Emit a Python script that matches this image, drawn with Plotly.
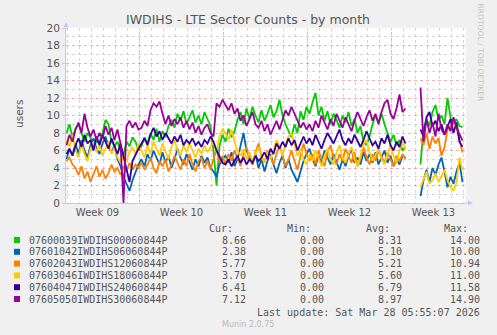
import pandas as pd
import plotly.graph_objects as go

title = "IWDIHS - LTE Sector Counts - by month"
start = "2026-02-23 22:00"   # first sample, one every 6 hours
step = "6h"
gap = 4                      # samples missing between the two runs

names = ["07600039IWDIHS00060844P", "07601042IWDIHS06060844P", "07602043IWDIHS12060844P",
         "07603046IWDIHS18060844P", "07604047IWDIHS24060844P", "07605050IWDIHS30060844P"]
colors = ["#00CC00", "#0066B3", "#FF8000", "#FFCC00", "#330099", "#990099"]

green_a = [8, 9, 7.5, 8.5, 9, 8, 7, 8, 7.5, 6.5, 7,
           7, 8, 9.5, 9, 7, 6.5, 7, 6, 5.5, 7, 6.5, 7.5, 7, 6,
           6.5, 7.5, 6.8, 8.0, 7.2, 8.5, 7.0, 8.2, 7.5, 8.8, 9.5, 8.6, 10.2, 9.4, 10.5, 9.0, 9.8, 10.6,
           9.2, 10.0, 9.0, 10.4, 9.6, 8.8, 6.0, 2.0, 6.5, 7.8,
           7.0, 8.5, 7.5, 8.2, 9.5, 10.4, 9.0, 10.8, 9.6, 11.0, 10.0, 9.2, 10.6, 9.4, 10.2, 11.2, 9.8,
           10.5, 11.8, 10.0, 9.0, 8.2, 7.5, 9.0, 8.0, 10.5, 9.5, 11.0,
           10.2, 11.5, 12.6, 10.0, 11.0, 9.4, 10.5, 9.0, 10.2, 9.5, 8.6, 10.0, 9.2, 10.4, 8.8, 9.6, 8.0,
           8.8, 7.0, 6.6, 7.6, 9.0, 10.0, 9.2, 10.2, 9.0, 8.0, 7.0, 7.8, 6.6, 7.2, 6.0, 6.4]
green_b = [4.4, 8.5, 9.6, 8.8, 10.4, 11.2, 9.5, 10.0, 9.0, 12.0, 9.8, 9.0, 9.6, 8.8, 8.66]

blue_a = [5.0, 6.2, 5.4, 6.8, 5.6, 7.2, 6.0, 5.2, 6.6, 7.4, 6.2, 5.6, 6.8, 7.6, 6.4, 5.8, 6.6, 5.0,
          4.2, 3.0, 2.2, 1.4, 2.6, 3.6, 4.4,
          5.0, 4.2, 5.6, 4.8, 6.0, 5.2, 4.4, 5.8, 4.6, 5.4, 4.0, 5.0, 6.2, 5.2, 4.4, 5.6, 4.8, 3.8,
          5.0, 4.2, 5.4, 4.6, 5.2, 4.0, 3.6, 3.0, 4.4, 5.0,
          5.4, 4.6, 5.8, 4.2, 5.0, 6.6, 8.0, 6.0, 5.2, 4.4, 5.6, 4.0, 5.0, 3.6, 4.8, 5.6, 4.4, 3.4,
          4.6, 5.4, 4.0, 5.0, 3.8, 3.0, 2.4, 3.6, 4.8, 5.6,
          6.2, 5.0, 4.2, 5.4, 4.6, 6.0, 5.2, 4.4, 5.6, 4.8, 3.8, 5.0, 4.2, 5.4, 6.2, 4.6, 5.2, 4.4,
          5.8, 4.8, 5.6, 4.6, 5.8, 4.4, 5.2, 6.0, 4.6, 5.4, 4.2, 5.0, 4.4, 5.4, 5.2]
blue_b = [0.8, 2.6, 3.8, 2.4, 4.0, 3.2, 4.4, 5.2, 3.6, 1.8, 3.0, 2.2, 3.6, 4.6, 2.38]

orange_a = [4.8, 5.2, 4.4, 4.0, 3.2, 4.2, 2.8, 3.6, 2.4, 3.4, 4.2, 3.0, 3.8, 2.8, 3.4, 4.4, 3.6,
            4.0, 3.2, 4.2, 3.6, 4.6, 3.8, 4.4, 4.0,
            4.6, 3.8, 4.4, 5.2, 4.0, 3.4, 4.8, 4.2, 5.0, 3.6, 4.4, 5.4, 4.6, 3.8, 5.0, 4.2, 5.6, 4.4,
            3.6, 4.8, 5.2, 4.0, 4.8, 3.8, 5.0, 6.2, 4.6, 5.4,
            4.4, 5.6, 4.8, 6.0, 5.2, 4.2, 5.6, 6.4, 5.0, 4.4, 5.8, 6.8, 5.4, 4.6, 6.0, 5.2, 4.4, 5.6,
            6.6, 5.4, 4.2, 5.0, 6.0, 4.8, 3.8, 5.4, 6.8, 5.6,
            4.8, 5.6, 4.4, 6.0, 5.0, 4.2, 5.8, 6.6, 5.2, 4.4, 5.6, 4.8, 6.2, 5.4, 4.6, 5.8, 4.2, 5.0,
            6.4, 5.2, 4.4, 5.6, 4.8, 6.0, 5.2, 4.6, 5.8, 5.0, 4.2, 5.4, 4.8, 5.6, 5.0]
orange_b = [7.4, 6.6, 8.0, 6.2, 7.6, 6.8, 7.4, 5.4, 6.4, 8.4, 8.8, 9.4, 8.6, 7.0, 5.77]

yellow_a = [7.2, 6.4, 7.8, 6.0, 5.2, 6.8, 5.6, 4.8, 6.2, 7.0, 5.8, 6.6, 5.4, 6.2, 7.0, 5.6, 6.4,
            5.2, 4.6, 5.4, 4.8, 5.8, 6.4, 5.6, 6.8,
            6.0, 5.2, 6.6, 5.6, 7.0, 6.2, 5.4, 6.8, 5.8, 5.0, 6.4, 7.2, 6.0, 5.4, 6.6, 5.8, 6.8, 6.0,
            5.2, 6.2, 5.6, 6.6, 5.8, 6.4, 7.0, 5.8, 7.6, 8.4,
            8.0, 7.2, 8.4, 7.0, 6.0, 5.4, 6.2, 5.0, 5.8, 4.8, 5.6, 6.4, 5.2, 4.6, 5.8, 5.0, 6.0, 7.2,
            6.4, 5.4, 6.8, 7.6, 8.0, 6.6, 5.4, 6.2, 5.0, 4.4,
            5.6, 4.8, 6.0, 5.2, 4.2, 5.4, 6.2, 5.0, 4.4, 5.8, 6.6, 5.2, 4.6, 5.6, 6.4, 5.0, 4.2, 5.4,
            6.8, 7.2, 5.8, 4.8, 5.6, 6.2, 5.0, 4.4, 5.6, 6.6, 5.4, 4.6, 6.0, 7.0, 6.2]
yellow_b = [1.8, 2.8, 3.6, 2.2, 2.6, 3.4, 2.4, 3.0, 3.8, 2.6, 1.8, 1.4, 2.4, 5.2, 3.70]

indigo_a = [5.6, 6.2, 5.4, 6.6, 7.4, 6.4, 7.8, 6.8, 7.2, 6.0, 7.6, 6.6, 7.8, 7.0, 6.2, 7.4, 6.4,
            5.6, 6.8, 5.2, 3.6, 2.4, 4.8, 5.6, 6.2,
            6.8, 7.4, 6.6, 7.8, 8.6, 7.6, 8.2, 7.2, 8.0, 7.4, 6.8, 7.6, 7.0, 7.8, 6.6, 7.2, 6.8, 7.4,
            6.6, 7.0, 6.4, 7.2, 6.8, 7.6, 7.0, 6.0, 5.2, 4.6,
            4.4, 5.0, 4.2, 4.8, 5.4, 4.6, 5.2, 4.4, 5.0, 4.6, 5.4, 4.8, 5.2, 5.8, 5.0, 6.2, 5.6, 6.8,
            6.2, 7.0, 6.4, 7.4, 6.6, 7.2, 6.0, 6.8, 7.6, 6.8,
            7.4, 6.6, 7.8, 7.0, 6.2, 7.2, 8.0, 7.4, 6.8, 7.6, 8.4, 7.2, 6.6, 7.4, 6.8, 7.8, 7.0, 6.4,
            7.2, 8.2, 7.4, 6.6, 7.0, 6.2, 7.4, 6.8, 7.8, 6.6, 6.0, 7.0, 6.4, 7.6, 6.8]
indigo_b = [8.4, 7.6, 9.8, 10.4, 8.8, 9.4, 8.2, 9.0, 7.8, 8.6, 9.6, 8.0, 9.2, 7.0, 6.41]

purple_a = [6.6, 7.8, 7.0, 8.4, 9.2, 8.0, 10.2, 8.6, 7.6, 8.4, 7.2, 8.0, 7.4, 8.8, 7.8, 8.6, 7.2,
            8.4, 6.8, 0.0, 8.8, 9.4, 8.6, 9.2, 8.4,
            8.6, 9.4, 8.8, 10.6, 11.4, 11.0, 11.6, 10.2, 9.0, 10.0, 8.8, 9.6, 9.0, 9.8, 8.6, 9.4, 8.4,
            9.2, 8.0, 8.8, 7.8, 8.6, 9.0, 8.0, 7.6, 11.4, 11.0, 11.8,
            11.2, 10.6, 11.4, 10.2, 10.8, 9.4, 10.0, 8.8, 9.6, 10.4, 9.0, 8.6, 9.4, 8.2, 9.0, 7.8, 8.6,
            9.4, 8.4, 9.6, 10.6, 10.0, 11.0, 10.2, 9.4, 8.6, 9.2, 8.4,
            9.0, 8.2, 9.4, 8.6, 10.0, 9.2, 8.4, 9.6, 8.8, 10.2, 9.4, 8.6, 9.8, 9.0, 8.2, 9.4, 10.4, 9.6,
            8.8, 9.8, 10.6, 9.4, 10.2, 9.0, 10.4, 11.4, 11.8, 10.2, 9.6, 10.8, 12.4, 10.4, 10.8]
purple_b = [13.2, 7.0, 9.6, 8.0, 9.2, 7.6, 10.2, 8.4, 7.8, 9.0, 8.2, 9.8, 8.6, 7.8, 7.12]

cur = ["8.66", "2.38", "5.77", "3.70", "6.41", "7.12"]
mins = ["0.00", "0.00", "0.00", "0.00", "0.00", "0.00"]
avgs = ["8.31", "5.10", "5.21", "5.60", "6.79", "8.97"]
maxs = ["14.00", "10.00", "10.94", "11.00", "11.58", "14.90"]
last_update = "Last update: Sat Mar 28 05:55:07 2026"

series = [(green_a, green_b), (blue_a, blue_b), (orange_a, orange_b),
          (yellow_a, yellow_b), (indigo_a, indigo_b), (purple_a, purple_b)]

# plot area in pixels
L, R, T, B = 66, 466, 28, 203
W, H = 497, 335


def px(x):
    return (x - L) / (R - L)


def py(y):
    return (B - y) / (B - T)


fig = go.Figure()
for (a, b), name, col in zip(series, names, colors):
    vals = a + [None] * gap + b
    t = pd.date_range(start, periods=len(vals), freq=step)
    fig.add_trace(go.Scatter(x=t, y=vals, mode="lines", name=name,
                             line=dict(color=col, width=1.8), hoverinfo="skip"))

grey = "#555555"
axis_col = "#C4C8F0"
red_grid = "rgba(230,120,120,0.6)"
minor_grid = "#D4D4D4"

# week separators (Mondays)
for d in ["2026-03-02", "2026-03-09", "2026-03-16", "2026-03-23"]:
    fig.add_shape(type="line", xref="x", yref="paper", x0=d, x1=d, y0=0, y1=1,
                  line=dict(color=red_grid, width=1, dash="dot"), layer="below")

fig.update_xaxes(range=["2026-02-23 21:00", "2026-03-29 05:00"],
                 tickvals=["2026-02-26 12:00", "2026-03-05 12:00", "2026-03-12 12:00",
                           "2026-03-19 12:00", "2026-03-26 12:00"],
                 ticktext=["Week 09", "Week 10", "Week 11", "Week 12", "Week 13"],
                 showgrid=False, zeroline=False, showline=True, linecolor=axis_col,
                 ticks="", tickfont=dict(size=10, color=grey),
                 minor=dict(dtick=86400000, tick0="2026-02-23", showgrid=True,
                            gridcolor=minor_grid, griddash="dot", gridwidth=1))
fig.update_yaxes(range=[0, 20], dtick=2, showgrid=True, gridcolor=red_grid, griddash="dot",
                 zeroline=False, showline=True, linecolor=axis_col,
                 ticks="outside", ticklen=3, tickcolor=axis_col,
                 tickfont=dict(size=10.5, color=grey),
                 minor=dict(dtick=1, showgrid=True, gridcolor=minor_grid, griddash="dot"))

ann = []
ann.append(dict(x=px(248), y=py(19), text=title, font=dict(size=12.5, color=grey)))
ann.append(dict(x=px(11), y=py(114), text="users", textangle=-90, font=dict(size=10.5, color=grey)))
ann.append(dict(x=px(487), y=py(53), text="RRDTOOL / TOBI OETIKER", textangle=90,
                font=dict(size=7.6, color="#C4C4C4")))

mono = dict(family="DejaVu Sans Mono", size=10, color=grey)
for head, xr in zip(["Cur:", "Min:", "Avg:", "Max:"], [235, 313, 392, 470]):
    ann.append(dict(x=px(xr), y=py(228), text=head, xanchor="right", font=mono))
for k, name in enumerate(names):
    yy = 240 + 11.8 * k
    fig.add_shape(type="rect", xref="paper", yref="paper", x0=px(14), x1=px(20),
                  y0=py(yy - 3), y1=py(yy + 3), fillcolor=colors[k], line=dict(width=0))
    ann.append(dict(x=px(27), y=py(yy), text=name, xanchor="left", font=mono))
    for col, xr in zip([cur, mins, avgs, maxs], [248, 326, 404, 482]):
        ann.append(dict(x=px(xr), y=py(yy), text=col[k], xanchor="right", font=mono))
ann.append(dict(x=px(482), y=py(312), text=last_update, xanchor="right", font=mono))
ann.append(dict(x=px(248), y=py(324), text="Munin 2.0.75", font=dict(size=8, color="#BBBBBB")))

# axis arrows
ann.append(dict(x=px(473), y=0, ax=-9, ay=0, text="", showarrow=True, arrowhead=2,
                arrowsize=1, arrowwidth=1, arrowcolor=axis_col))
ann.append(dict(x=0, y=py(22), ax=0, ay=9, text="", showarrow=True, arrowhead=2,
                arrowsize=1, arrowwidth=1, arrowcolor=axis_col))
for a in ann:
    a.setdefault("xref", "paper")
    a.setdefault("yref", "paper")
    a.setdefault("showarrow", False)
    a.setdefault("yanchor", "middle")

fig.update_layout(width=W, height=H, margin=dict(l=L, r=W - R, t=T, b=H - B),
                  paper_bgcolor="#F0F0F0", plot_bgcolor="#FFFFFF",
                  font=dict(family="DejaVu Sans", color=grey),
                  showlegend=False, annotations=ann)

# the page's default body margin would push the figure 8px right and down
fig.write_html("out.html", config={"displayModeBar": False},
               post_script="document.body.style.margin='0';")
